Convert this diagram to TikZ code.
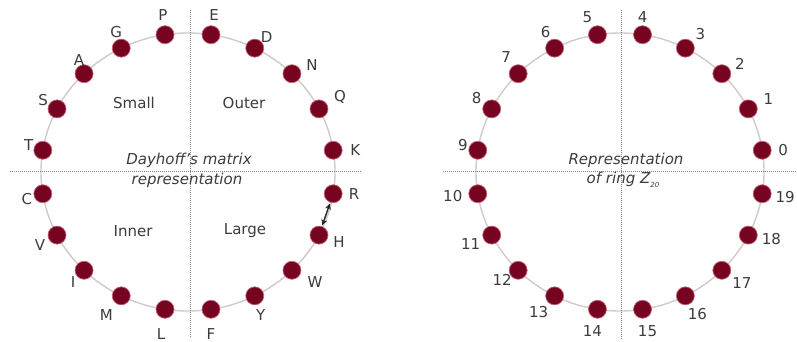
\documentclass[tikz,border=0pt]{standalone}
\usepackage{fontspec}
\setmainfont{DejaVu Sans}
\usetikzlibrary{arrows.meta,calc}
\definecolor{dotred}{HTML}{760420}
\definecolor{dotrim}{HTML}{C06078}
\definecolor{ringgray}{HTML}{D0CACA}
\definecolor{txtgray}{HTML}{3C3C3C}
\definecolor{axisgray}{HTML}{808080}
\tikzset{
  dot/.style={circle, fill=dotred, draw=dotrim, line width=0.7pt, minimum size=18pt, inner sep=0pt},
  lab/.style={text=txtgray, font=\fontsize{15}{16}\selectfont, inner sep=0pt},
  region/.style={text=txtgray, font=\fontsize{15}{16}\selectfont, inner sep=0pt},
  caption/.style={text=txtgray, font=\fontsize{15}{16}\selectfont\itshape, align=center, inner sep=0pt},
  ring/.style={draw=ringgray, line width=1.4pt},
  axisline/.style={draw=axisgray, line width=0.9pt, dash pattern=on 1pt off 1pt},
}
\begin{document}
\begin{tikzpicture}[x=1pt,y=-1pt]
\useasboundingbox[fill=white] (0,0) rectangle (797,342);
% rings
\draw[ring] (188,172) ellipse [x radius=147, y radius=139];
\draw[ring] (620,172) ellipse [x radius=144, y radius=139];
% axes
\draw[axisline] (190,10) -- (190,338);
\draw[axisline] (10,171) -- (362,171);
\draw[axisline] (621,10) -- (621,340);
\draw[axisline] (443,171) -- (797,171);
% left dots
\foreach \n/\dx/\dy [count=\k from 0] in {K/22/0, Q/21/-12, N/20/-9, D/12/-11, E/3/-20, P/-2/-20, G/-5/-16, A/-5/-14, S/-14/-9, T/-14/-5, C/-16/5, V/-17/10, I/-11/12, M/-15/19, L/-4/25, F/0/25, Y/6/19, W/23/12, H/20/7, R/21/0} {
  \pgfmathsetmacro\t{9+18*\k}
  \node[dot] (a\k) at ({188+147*cos(\t)},{172-139*sin(\t)}) {};
  \node[lab] (la\k) at ($(a\k)+(\dx,\dy)$) {\n};
}
% right dots
\foreach \dx/\dy [count=\k from 0] in {21/0, 20/-10, 18/-10, 15/-14, 0/-18, -10/-18, -9/-16, -12/-17, -15/-11, -15/-5, -25/2, -21/9, -16/10, -16/16, -5/22, 5/22, 12/18, 20/13, 23/4, 23/3} {
  \pgfmathsetmacro\t{9+18*\k}
  \node[dot] (b\k) at ({620+144*cos(\t)},{172-139*sin(\t)}) {};
  \node[lab] (lb\k) at ($(b\k)+(\dx,\dy)$) {\k};
}
% R <-> H arrow
\draw[{Stealth[length=6pt,width=6pt]}-{Stealth[length=6pt,width=6pt]}, line width=1.4pt, black!85, shorten <=1pt, shorten >=1pt] (a19) -- (a18);
% region names
\node[region] (small) at (134,103) {Small};
\node[region] (outer) at (244,103) {Outer};
\node[region] (inner) at (133,231) {Inner};
\node[region] (large) at (245,231) {Large};
% captions
\node[caption] (capl1) at (189,160) {Dayhoff's matrix};
\node[caption] (capl2) at (187,180) {representation};
\node[caption] (capr1) at (626,160) {Representation};
\node[caption] (capr2) at (623,180) {of ring \textit{Z}\raisebox{-0.5ex}{\fontsize{7}{8}\selectfont 20}};
\end{tikzpicture}
\end{document}
